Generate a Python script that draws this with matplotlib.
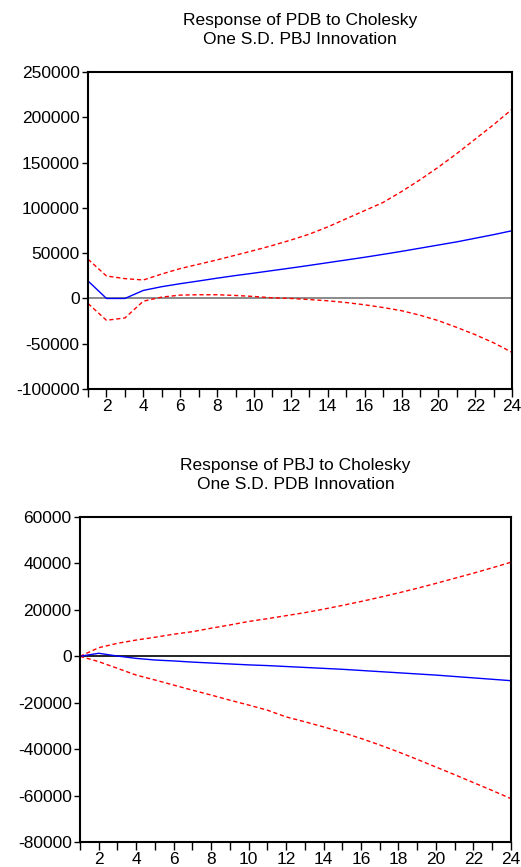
import numpy as np
import matplotlib
matplotlib.use('Agg')
import matplotlib.pyplot as plt

plt.rcParams['font.family'] = ['Liberation Sans', 'DejaVu Sans']

# Горизонт отклика (периоды)
periods = np.arange(1, 25)

# Отклик PDB на шок PBJ
pdb_resp = [19300, 0, 0, 8900, 13000, 16300, 19300, 22400, 25300, 28000, 30800, 33600,
            36500, 39500, 42500, 45500, 48700, 52000, 55500, 59000, 62500, 66500, 70500, 74800]
pdb_upper = [43300, 24800, 21900, 20400, 27000, 33000, 37800, 42600, 47800, 53000, 58500, 64500,
             71000, 79000, 88000, 97000, 106000, 118000, 131000, 145000, 160000, 176000, 192000, 209000]
pdb_lower = [-5600, -24100, -21500, -3000, 1500, 3700, 4100, 4100, 3300, 2200, 700, 0,
             -1200, -2600, -4500, -7000, -10000, -13500, -18500, -24500, -32000, -40000, -49000, -59600]

# Отклик PBJ на шок PDB
pbj_resp = [0, 1300, 100, -900, -1600, -2000, -2500, -2900, -3300, -3700, -4000, -4400,
            -4800, -5200, -5600, -6100, -6600, -7100, -7600, -8100, -8700, -9300, -9900, -10500]
pbj_upper = [0, 3700, 5600, 7000, 8200, 9500, 10600, 12100, 13500, 15000, 16200, 17500,
             18800, 20300, 21900, 23600, 25400, 27300, 29300, 31400, 33600, 35800, 38100, 40500]
pbj_lower = [0, -2300, -5200, -8100, -10200, -12400, -14600, -16700, -18900, -21000, -23200, -26100,
             -28200, -30400, -32800, -35400, -38200, -41200, -44400, -47700, -51000, -54400, -57800, -61300]

top_ticks = np.arange(-100000, 250001, 50000)
bottom_ticks = np.arange(-80000, 60001, 20000)
x_labels = np.arange(2, 25, 2)

fig = plt.figure(figsize=(5.21, 8.67), dpi=100)
ax1 = fig.add_axes([0.169, 0.5513, 0.814, 0.3656])
ax2 = fig.add_axes([0.1536, 0.0288, 0.827, 0.3749])


def draw(ax, resp, upper, lower, yticks, zero_color, title):
    ax.axhline(0, color=zero_color, lw=1.2, zorder=1)
    ax.plot(periods, upper, color='red', lw=1.0, ls=(0, (3, 2)))
    ax.plot(periods, lower, color='red', lw=1.0, ls=(0, (3, 2)))
    ax.plot(periods, resp, color='blue', lw=1.0)
    ax.set_xlim(1, 24)
    ax.set_ylim(yticks[0], yticks[-1])
    ax.set_yticks(yticks)
    ax.set_yticklabels([str(v) for v in yticks])
    ax.set_xticks(periods, minor=True)
    ax.set_xticks(x_labels)
    ax.set_xticklabels([str(v) for v in x_labels])
    ax.tick_params(axis='both', which='both', direction='out', labelsize=12.5, width=1.0)
    ax.tick_params(axis='y', length=4, pad=2)
    ax.tick_params(axis='x', which='both', length=6, pad=1)
    for s in ax.spines.values():
        s.set_linewidth(1.5)
    ax.set_title(title, fontsize=12.5, pad=20, linespacing=1.35)


draw(ax1, pdb_resp, pdb_upper, pdb_lower, top_ticks, '#777777',
     'Response of PDB to Cholesky\nOne S.D. PBJ Innovation')
draw(ax2, pbj_resp, pbj_upper, pbj_lower, bottom_ticks, 'black',
     'Response of PBJ to Cholesky\nOne S.D. PDB Innovation')

fig.savefig('out.png', dpi=100)
